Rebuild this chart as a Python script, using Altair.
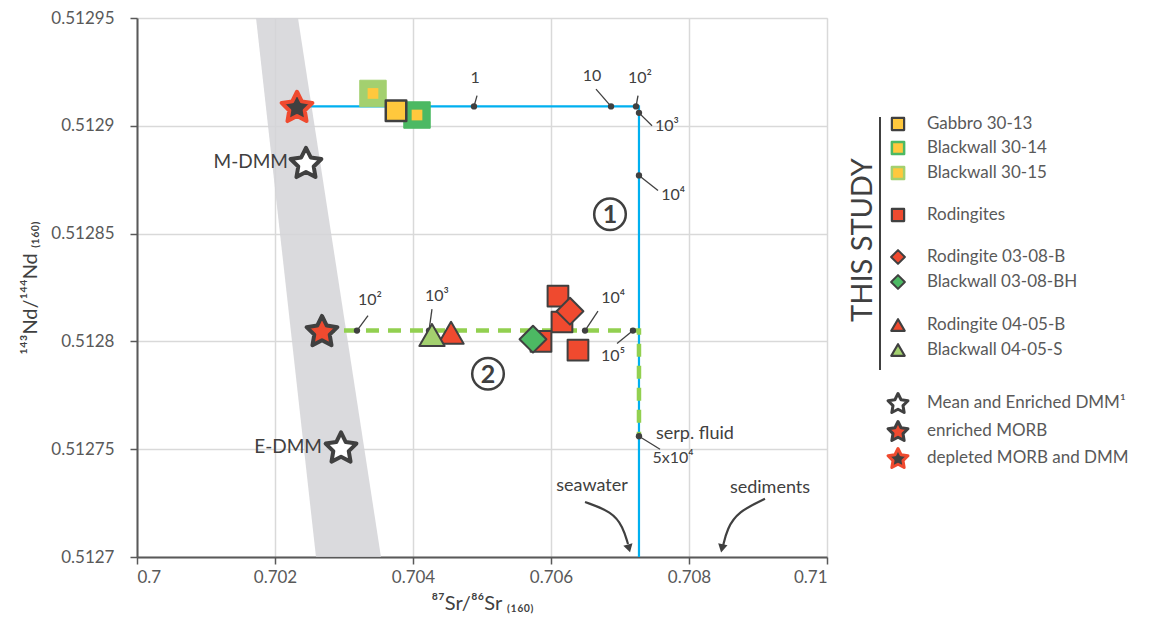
import math
import altair as alt
import pandas as pd

# ---------------- data ----------------
x_ticks = [0.700, 0.702, 0.704, 0.706, 0.708, 0.710]
y_ticks = [0.51270, 0.51275, 0.51280, 0.51285, 0.51290, 0.51295]

# grey MORB / DMM field (top and bottom rows, left and right edge)
band_y = [0.51295, 0.51270]
band_x_left = [0.701725, 0.702594]
band_x_right = [0.702333, 0.703536]

# mixing path 1 (blue) and 2 (green dashed)
mix1_x = [0.702319, 0.707275, 0.707275]
mix1_y = [0.512909, 0.512909, 0.512700]
mix2_x = [0.702681, 0.707275, 0.707275]
mix2_y = [0.512805, 0.512805, 0.512756]

# mixing proportions marked on the paths
mix_labels = ["1", "10", "10²", "10³", "10⁴", "5x10⁴", "10²", "10³", "10⁴", "10⁵"]
mix_x = [0.704884, 0.706870, 0.707232, 0.707275, 0.707275, 0.707275, 0.703188, 0.704232, 0.706493, 0.707188]
mix_y = [0.512909, 0.512909, 0.512909, 0.512906, 0.512877, 0.512756, 0.512805, 0.512805, 0.512805, 0.512805]
leader_x = [0.704928, 0.706652, 0.707261, 0.707464, 0.707551, 0.707580, 0.703348, 0.704275, 0.706681, 0.706957]
leader_y = [0.512914, 0.512917, 0.512914, 0.512900, 0.512870, 0.512750, 0.512812, 0.512815, 0.512814, 0.512799]
label_x = [0.704899, 0.706594, 0.707290, 0.707680, 0.707770, 0.707770, 0.703377, 0.704348, 0.706900, 0.706899]
label_y = [0.512922, 0.512923, 0.512922, 0.512900, 0.512868, 0.512746, 0.512819, 0.512821, 0.512820, 0.512793]

# samples (drawing order)
sample_names = ["Blackwall 30-15", "Blackwall 30-14", "Gabbro 30-13", "Rodingites",
                "Rodingite 03-08-B", "Blackwall 03-08-BH", "Rodingite 04-05-B", "Blackwall 04-05-S"]
sample_x = [[0.703420], [0.704058], [0.703754],
            [0.706101, 0.706159, 0.706391, 0.705855],
            [0.706275], [0.705739], [0.704551], [0.704275]]
sample_y = [[0.512915], [0.512905], [0.512907],
            [0.512821, 0.512809, 0.512796, 0.512800],
            [0.512814], [0.512801], [0.512804], [0.512803]]

# end members (stars)
star_names = ["M-DMM", "E-DMM", "enriched MORB", "depleted MORB and DMM"]
star_x = [0.702449, 0.702957, 0.702681, 0.702319]
star_y = [0.512883, 0.512751, 0.512805, 0.512909]

# other annotations
circle_labels = ["1", "2"]
circle_x = [0.706855, 0.705087]
circle_y = [0.512859, 0.512785]

dmm_labels = ["M-DMM", "E-DMM"]
dmm_x = [0.702188, 0.702681]
dmm_y = [0.512883, 0.512751]

serp_text = ["serp. fluid"]
serp_x = [0.707522]
serp_y = [0.512757]

arrow_names = ["seawater", "sediments"]
arrow_text_x = [0.706594, 0.709174]
arrow_text_y = [0.512733, 0.512732]
arrow_curve_x = [[0.706493, 0.706884, 0.707043, 0.707116], [0.709101, 0.708710, 0.708551, 0.708493]]
arrow_curve_y = [[0.5127255, 0.512721, 0.512714, 0.512706], [0.512727, 0.512721, 0.512713, 0.512705]]
arrow_head_x = [0.707130, 0.708478]
arrow_head_y = [0.512704, 0.512704]

legend_labels = ["Gabbro 30-13", "Blackwall 30-14", "Blackwall 30-15", "Rodingites",
                 "Rodingite 03-08-B", "Blackwall 03-08-BH", "Rodingite 04-05-B", "Blackwall 04-05-S",
                 "Mean and Enriched DMM¹", "enriched MORB", "depleted MORB and DMM"]

# ---------------- styling ----------------
FONT = "Lato, 'Noto Sans', sans-serif"
RED = "#EF4A2F"
DARK = "#404040"
YELLOW = "#FFC83D"
GREEN = "#4CB963"
LGREEN = "#A3D06F"
BLUE = "#00B0F0"
DGREEN = "#92D050"
TXT = "#595959"


def star_path(r_in=0.5, dy=0.095):
    pts = []
    for k in range(10):
        ang = math.radians(-90 + 36 * k)
        r = 1.0 if k % 2 == 0 else r_in
        pts.append((r * math.cos(ang), r * math.sin(ang) + dy))
    return "M" + "L".join(f"{a:.3f},{b:.3f}" for a, b in pts) + "Z"


STAR = star_path()

xscale = alt.Scale(domain=[0.700, 0.710], nice=False, zero=False)
yscale = alt.Scale(domain=[0.51270, 0.51295], nice=False, zero=False)

xaxis = alt.Axis(values=x_ticks, format=".3~f", title="⁸⁷Sr/⁸⁶Sr ₍₁₆₀₎",
                 labelFontSize=17, labelColor=TXT, labelFont=FONT, labelPadding=5,
                 titleFont=FONT, titleFontSize=20, titleFontWeight="normal", titleColor=DARK,
                 titlePadding=8, tickColor=TXT, tickSize=7, tickWidth=1.5,
                 domainColor=TXT, domainWidth=2, gridColor="#D9D9D9", gridWidth=1.5)
yaxis = alt.Axis(values=y_ticks, format=".5~f", title="¹⁴³Nd/¹⁴⁴Nd ₍₁₆₀₎",
                 labelFontSize=17, labelColor=TXT, labelFont=FONT, labelPadding=16,
                 titleFont=FONT, titleFontSize=20, titleFontWeight="normal", titleColor=DARK,
                 titlePadding=10, tickColor=TXT, tickSize=7, tickWidth=1.5,
                 domainColor=TXT, domainWidth=2, gridColor="#D9D9D9", gridWidth=1.5)


def X(field):
    return alt.X(field, type="quantitative", scale=xscale, axis=xaxis)


def Y(field):
    return alt.Y(field, type="quantitative", scale=yscale, axis=yaxis)


layers = []

# grey field
band_df = pd.DataFrame({"y": band_y, "xl": band_x_left, "xr": band_x_right})
layers.append(alt.Chart(band_df).mark_area(orient="horizontal", color="#D3D4D7", opacity=0.85)
              .encode(y=Y("y"), x=X("xl"), x2="xr"))

# mixing paths
m1 = pd.DataFrame({"x": mix1_x, "y": mix1_y, "o": range(len(mix1_x))})
layers.append(alt.Chart(m1).mark_line(color=BLUE, strokeWidth=2.2)
              .encode(x=X("x"), y=Y("y"), order="o:Q"))
m2 = pd.DataFrame({"x": mix2_x, "y": mix2_y, "o": range(len(mix2_x))})
layers.append(alt.Chart(m2).mark_line(color=DGREEN, strokeWidth=4.5, strokeDash=[13, 9])
              .encode(x=X("x"), y=Y("y"), order="o:Q"))

# leaders, dots, labels
mix_df = pd.DataFrame({"x": mix_x, "y": mix_y, "lx": leader_x, "ly": leader_y,
                       "tx": label_x, "ty": label_y, "t": mix_labels})
layers.append(alt.Chart(mix_df).mark_rule(color=DARK, strokeWidth=1.3)
              .encode(x=X("x"), y=Y("y"), x2="lx", y2="ly"))
layers.append(alt.Chart(mix_df).mark_circle(color=DARK, size=40, opacity=1)
              .encode(x=X("x"), y=Y("y")))
layers.append(alt.Chart(mix_df).mark_text(font=FONT, fontSize=16, color=DARK, baseline="middle", align="center")
              .encode(x=X("tx"), y=Y("ty"), text="t:N"))

# stars
star_style = {
    "M-DMM": ("white", DARK),
    "E-DMM": ("white", DARK),
    "enriched MORB": (RED, DARK),
    "depleted MORB and DMM": (DARK, RED),
}
star_df = pd.DataFrame({"x": star_x, "y": star_y, "n": star_names})
star_df["fill"] = [star_style[n][0] for n in star_names]
star_df["stroke"] = [star_style[n][1] for n in star_names]
layers.append(alt.Chart(star_df).mark_point(shape=STAR, filled=True, size=1050, strokeWidth=4,
                                             strokeJoin="round", opacity=1)
              .encode(x=X("x"), y=Y("y"), fill=alt.Fill("fill:N", scale=None),
                      stroke=alt.Stroke("stroke:N", scale=None)))

# samples
sample_style = {
    "Blackwall 30-15": ("square", LGREEN, LGREEN, 700, 1),
    "Blackwall 30-14": ("square", GREEN, GREEN, 700, 1),
    "Gabbro 30-13": ("square", YELLOW, DARK, 420, 2.5),
    "Rodingites": ("square", RED, DARK, 430, 2),
    "Rodingite 03-08-B": ("diamond", RED, DARK, 720, 2),
    "Blackwall 03-08-BH": ("diamond", GREEN, DARK, 720, 2),
    "Rodingite 04-05-B": ("triangle-up", RED, DARK, 640, 2),
    "Blackwall 04-05-S": ("triangle-up", LGREEN, DARK, 640, 2),
}
rows = []
for name, xs, ys in zip(sample_names, sample_x, sample_y):
    for xv, yv in zip(xs, ys):
        rows.append({"x": xv, "y": yv, "name": name})
sdf = pd.DataFrame(rows)
for name in sample_names:
    sub = sdf[sdf["name"] == name]
    shp, fl, st, sz, sw = sample_style[name]
    layers.append(alt.Chart(sub).mark_point(shape=shp, filled=True, fill=fl, stroke=st, size=sz,
                                            strokeWidth=sw, opacity=1, strokeJoin="round")
                  .encode(x=X("x"), y=Y("y")))
    if name.startswith("Blackwall 30"):
        layers.append(alt.Chart(sub).mark_point(shape="square", filled=True, fill=YELLOW, size=115,
                                                strokeWidth=0, opacity=1)
                      .encode(x=X("x"), y=Y("y")))

# circled numbers
cdf = pd.DataFrame({"x": circle_x, "y": circle_y, "t": circle_labels})
layers.append(alt.Chart(cdf).mark_point(shape="circle", filled=False, stroke=DARK, size=1000,
                                        strokeWidth=2.5, opacity=1)
              .encode(x=X("x"), y=Y("y")))
layers.append(alt.Chart(cdf).mark_text(font=FONT, fontSize=25, fontWeight="bold", color=DARK,
                                       baseline="middle", align="center", dy=1)
              .encode(x=X("x"), y=Y("y"), text="t:N"))

# DMM labels
ddf = pd.DataFrame({"x": dmm_x, "y": dmm_y, "t": dmm_labels})
layers.append(alt.Chart(ddf).mark_text(font=FONT, fontSize=19, color=DARK, baseline="middle", align="right")
              .encode(x=X("x"), y=Y("y"), text="t:N"))

# serp fluid label
sfd = pd.DataFrame({"x": serp_x, "y": serp_y, "t": serp_text})
layers.append(alt.Chart(sfd).mark_text(font=FONT, fontSize=18, color=DARK, baseline="middle", align="left")
              .encode(x=X("x"), y=Y("y"), text="t:N"))

# seawater / sediments arrows
adf = pd.DataFrame({"x": arrow_text_x, "y": arrow_text_y, "t": arrow_names})
layers.append(alt.Chart(adf).mark_text(font=FONT, fontSize=18, color=DARK, baseline="middle", align="center")
              .encode(x=X("x"), y=Y("y"), text="t:N"))
for name, cx, cy in zip(arrow_names, arrow_curve_x, arrow_curve_y):
    cd = pd.DataFrame({"x": cx, "y": cy, "o": range(len(cx))})
    layers.append(alt.Chart(cd).mark_line(color=DARK, strokeWidth=2.2, interpolate="basis")
                  .encode(x=X("x"), y=Y("y"), order="o:Q"))
head_angles = [345, 12]
for hx, hy, ang in zip(arrow_head_x, arrow_head_y, head_angles):
    hd = pd.DataFrame({"x": [hx], "y": [hy]})
    layers.append(alt.Chart(hd).mark_point(shape="triangle-down", filled=True, color=DARK, size=90,
                                           angle=ang, opacity=1)
                  .encode(x=X("x"), y=Y("y")))

# ---------------- legend (layout in pixels of the plot area) ----------------
one = pd.DataFrame({"k": [0]})
legend_style = [
    ("square", YELLOW, DARK, 150, 2.2),
    ("square", YELLOW, GREEN, 150, 2.5),
    ("square", YELLOW, LGREEN, 150, 2.5),
    ("square", RED, DARK, 150, 2.2),
    ("diamond", RED, DARK, 190, 2),
    ("diamond", GREEN, DARK, 190, 2),
    ("triangle-up", RED, DARK, 180, 2.2),
    ("triangle-up", LGREEN, DARK, 180, 2.2),
    (STAR, "white", DARK, 440, 3),
    (STAR, RED, DARK, 440, 3),
    (STAR, DARK, RED, 440, 3),
]
row_steps = [24, 25, 42, 42, 25, 43, 25, 53, 28, 27]
row_y = [106.0]
for s in row_steps:
    row_y.append(row_y[-1] + s)

MARK_X = 761
TEXT_X = 790
for lab, (shp, fl, st, sz, sw), ry in zip(legend_labels, legend_style, row_y):
    layers.append(alt.Chart(one).mark_point(shape=shp, filled=True, fill=fl, stroke=st, size=sz,
                                            strokeWidth=sw, opacity=1, strokeJoin="round")
                  .encode(x=alt.value(MARK_X), y=alt.value(ry)))
    layers.append(alt.Chart(one).mark_text(text=lab, font=FONT, fontSize=17, color=TXT,
                                           align="left", baseline="middle")
                  .encode(x=alt.value(TEXT_X), y=alt.value(ry)))

layers.append(alt.Chart(one).mark_text(text="THIS STUDY", font=FONT, fontSize=29, color=DARK,
                                       angle=270, align="center", baseline="middle")
              .encode(x=alt.value(726), y=alt.value(222)))
layers.append(alt.Chart(one).mark_rule(color=DARK, strokeWidth=2)
              .encode(x=alt.value(743), y=alt.value(99), y2=alt.value(352)))

chart = (alt.layer(*layers)
         .properties(width=690, height=539,
                     padding={"left": 129, "top": 10, "right": 330, "bottom": 80},
                     autosize=alt.AutoSizeParams(type="none"))
         .configure_view(stroke=TXT, strokeWidth=2)
         .configure(background="white"))

chart.save("out.html", embed_options={"renderer": "svg", "actions": False})
